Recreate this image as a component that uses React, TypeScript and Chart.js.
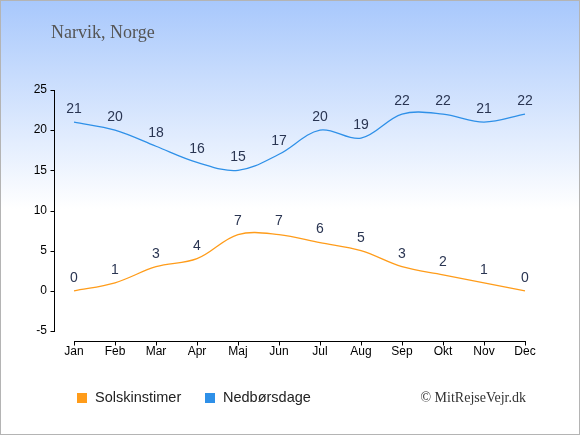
import { useEffect, useRef } from "react"
import { Chart, registerables } from "chart.js"

Chart.register(...registerables)

const months = ["Jan", "Feb", "Mar", "Apr", "Maj", "Jun", "Jul", "Aug", "Sep", "Okt", "Nov", "Dec"]
const sunHours = [0, 1, 3, 4, 7, 7, 6, 5, 3, 2, 1, 0]
const rainDays = [21, 20, 18, 16, 15, 17, 20, 19, 22, 22, 21, 22]
const seriesNames = ["Solskinstimer", "Nedbørsdage"]
const seriesColors = ["#ff9c1a", "#2e90e8"]
const yMin = -5
const yMax = 25
const yStep = 5

const title = "Narvik, Norge"
const credit = "© MitRejseVejr.dk"

// axis lines, value labels, legend and texts
const decorPlugin = {
  id: "decor",
  afterDatasetsDraw(chart: any) {
    const { ctx, chartArea, scales } = chart
    const xs = scales.x
    const ys = scales.y
    ctx.save()

    // y axis
    const ax = Math.round(chartArea.left - 20) + 0.5
    ctx.strokeStyle = "#000"
    ctx.lineWidth = 1
    ctx.beginPath()
    ctx.moveTo(ax, Math.round(ys.getPixelForValue(yMax)))
    ctx.lineTo(ax, Math.round(ys.getPixelForValue(yMin)) + 1)
    for (let v = yMin; v <= yMax; v += yStep) {
      const py = Math.round(ys.getPixelForValue(v)) + 0.5
      ctx.moveTo(ax - 4, py)
      ctx.lineTo(ax, py)
    }
    // x axis
    const ay = Math.round(chartArea.bottom + 10) + 0.5
    ctx.moveTo(Math.round(xs.getPixelForValue(0)), ay)
    ctx.lineTo(Math.round(xs.getPixelForValue(months.length - 1)) + 1, ay)
    months.forEach((_, i) => {
      const px = Math.round(xs.getPixelForValue(i)) + 0.5
      ctx.moveTo(px, ay)
      ctx.lineTo(px, ay + 4)
    })
    ctx.stroke()

    // value labels
    ctx.font = "14px 'Liberation Sans', Arial, sans-serif"
    ctx.fillStyle = "#2a3552"
    ctx.textAlign = "center"
    ctx.textBaseline = "middle"
    chart.data.datasets.forEach((ds: any, di: number) => {
      const meta = chart.getDatasetMeta(di)
      meta.data.forEach((pt: any, i: number) => {
        ctx.fillText(String(ds.data[i]), pt.x, pt.y - 13)
      })
    })

    // title
    ctx.font = "18px 'Liberation Serif', 'Times New Roman', serif"
    ctx.fillStyle = "#555"
    ctx.textAlign = "left"
    ctx.fillText(title, 50, 32)

    // legend
    const legendX = [76, 204]
    ctx.font = "14.5px 'Liberation Sans', Arial, sans-serif"
    chart.data.datasets.forEach((ds: any, di: number) => {
      ctx.fillStyle = ds.borderColor
      ctx.fillRect(legendX[di], 392, 10, 10)
      ctx.fillStyle = "#222"
      ctx.fillText(ds.label, legendX[di] + 18, 397)
    })

    // credit
    ctx.font = "14px 'Liberation Serif', 'Times New Roman', serif"
    ctx.fillStyle = "#333"
    ctx.textAlign = "right"
    ctx.fillText(credit, 525, 397)

    ctx.restore()
  },
}

export default function App() {
  const canvasRef = useRef<HTMLCanvasElement>(null)
  const chartRef = useRef<Chart | null>(null)

  useEffect(() => {
    if (!canvasRef.current) return
    document.body.style.margin = "0"
    if (chartRef.current) chartRef.current.destroy()

    chartRef.current = new Chart(canvasRef.current, {
      type: "line",
      data: {
        labels: months,
        datasets: [
          {
            label: seriesNames[0],
            data: sunHours,
            borderColor: seriesColors[0],
            backgroundColor: seriesColors[0],
            borderWidth: 1.3,
            pointRadius: 0,
            tension: 0.35,
            fill: false,
          },
          {
            label: seriesNames[1],
            data: rainDays,
            borderColor: seriesColors[1],
            backgroundColor: seriesColors[1],
            borderWidth: 1.3,
            pointRadius: 0,
            tension: 0.35,
            fill: false,
          },
        ],
      },
      options: {
        responsive: false,
        animation: false,
        devicePixelRatio: 1,
        layout: { padding: { left: 33, right: 54, top: 89, bottom: 63 } },
        plugins: {
          legend: { display: false },
          title: { display: false },
          tooltip: { enabled: false },
        },
        scales: {
          x: {
            type: "category",
            offset: false,
            border: { display: false },
            grid: { display: false, drawTicks: false },
            ticks: {
              padding: 13,
              color: "#000",
              maxRotation: 0,
              autoSkip: false,
              font: { family: "'Liberation Sans', Arial, sans-serif", size: 12 },
            },
            afterFit(scale: any) {
              scale.height = 40
            },
          },
          y: {
            min: yMin,
            max: yMax,
            border: { display: false },
            grid: { display: false, drawTicks: false },
            ticks: {
              stepSize: yStep,
              padding: 27,
              color: "#000",
              font: { family: "'Liberation Sans', Arial, sans-serif", size: 12 },
            },
            afterFit(scale: any) {
              scale.width = 40
            },
          },
        },
      },
      plugins: [decorPlugin],
    })

    return () => {
      if (chartRef.current) {
        chartRef.current.destroy()
        chartRef.current = null
      }
    }
  }, [])

  return (
    <div
      style={{
        position: "absolute",
        left: 0,
        top: 0,
        width: 580,
        height: 435,
        boxSizing: "border-box",
        border: "1px solid #b4b4b4",
        background: "linear-gradient(to bottom, #a8c8fc 0%, #ffffff 48%, #ffffff 100%)",
      }}
    >
      <canvas ref={canvasRef} width={578} height={433} style={{ display: "block" }}></canvas>
    </div>
  )
}
